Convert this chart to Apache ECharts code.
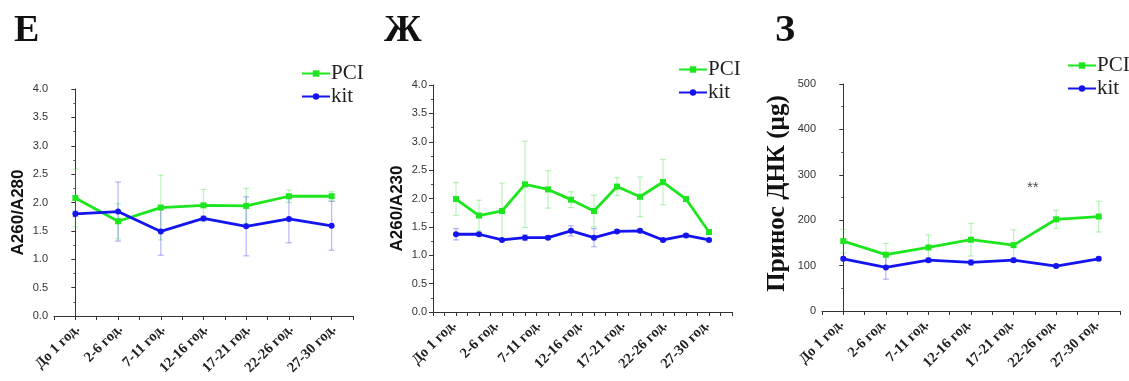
<!DOCTYPE html>
<html><head><meta charset="utf-8">
<script src="https://cdn.jsdelivr.net/npm/echarts@6/dist/echarts.min.js"></script>
<style>html,body{margin:0;padding:0;background:#fff}#c{width:1129px;height:381px}</style>
</head><body><div id="c"></div>
<script>
// ---------- data ----------
const ageLabels = ['До 1 год.', '2-6 год.', '7-11 год.', '12-16 год.', '17-21 год.', '22-26 год.', '27-30 год.'];
const panelLetters = ['Е', 'Ж', 'З'];
const seriesNames = ['PCI', 'kit'];

// Panel Е : A260/A280
const pciE   = [2.08, 1.67, 1.91, 1.95, 1.94, 2.11, 2.11];
const pciESd = [0.51, 0.31, 0.57, 0.28, 0.31, 0.11, 0.08];
const kitE   = [1.80, 1.84, 1.49, 1.72, 1.58, 1.71, 1.59];
const kitESd = [0.05, 0.52, 0.42, 0.04, 0.52, 0.42, 0.43];

// Panel Ж : A260/A230 (12 points)
const pciZh   = [1.99, 1.70, 1.78, 2.25, 2.16, 1.98, 1.78, 2.21, 2.03, 2.29, 1.99, 1.41];
const pciZhSd = [0.29, 0.27, 0.49, 0.76, 0.33, 0.14, 0.28, 0.16, 0.35, 0.40, 0.02, 0.02];
const kitZh   = [1.37, 1.37, 1.27, 1.31, 1.31, 1.43, 1.31, 1.42, 1.43, 1.27, 1.35, 1.27];
const kitZhSd = [0.10, 0.03, 0.02, 0.05, 0.03, 0.09, 0.16, 0.03, 0.03, 0.03, 0.03, 0.02];

// Panel З : DNA yield (µg)
const pciZ   = [154, 124, 140, 157, 145, 202, 208];
const pciZSd = [26, 25, 28, 36, 34, 20, 34];
const kitZ   = [115, 96, 112, 107, 112, 99, 115];
const kitZSd = [4, 26, 5, 6, 5, 4, 4];

const yTitles = ['A260/A280', 'A260/A230', 'Принос ДНК (µg)'];
const yMax = [4, 4, 500];
const yInterval = [0.5, 0.5, 100];
const sigMark = {x: 4.45, y: 272, text: '**'};

// ---------- layout ----------
const mains = [
  {left: 54, right: 353, top: 89, bottom: 316, xmin: -0.5, xmax: 6.5, first: 0, last: 6, shift: 2},
  {left: 433, right: 732, top: 85, bottom: 312, xmin: 0, xmax: 13, first: 1, last: 12, shift: -2},
  {left: 822, right: 1120, top: 84, bottom: 311, xmin: -0.5, xmax: 6.5, first: 0, last: 6, shift: -2}
];
const GREEN = '#1ee61e', BLUE = '#1414f0';
const GREEN_E = 'rgba(40,220,40,0.32)', BLUE_E = 'rgba(30,30,240,0.32)';

const grids = [], xAxes = [], yAxes = [], series = [], legends = [];
const pctx = (m, v) => m.left + (v - m.xmin) / (m.xmax - m.xmin) * (m.right - m.left);

const panelData = [
  [[pciE, pciESd], [kitE, kitESd]],
  [[pciZh, pciZhSd], [kitZh, kitZhSd]],
  [[pciZ, pciZSd], [kitZ, kitZSd]]
];

function errSeries(gi, vals, sd, color, xs) {
  return {
    type: 'custom', xAxisIndex: gi, yAxisIndex: gi, silent: true, z: 1,
    data: vals.map((v, i) => [xs[i], v - sd[i], v + sd[i]]),
    renderItem: function (params, api) {
      const lo = api.coord([api.value(0), api.value(1)]);
      const hi = api.coord([api.value(0), api.value(2)]);
      const cw = 3;
      const st = {stroke: color, lineWidth: 1.2};
      return {type: 'group', children: [
        {type: 'line', shape: {x1: lo[0], y1: lo[1], x2: hi[0], y2: hi[1]}, style: st},
        {type: 'line', shape: {x1: lo[0]-cw, y1: lo[1], x2: lo[0]+cw, y2: lo[1]}, style: st},
        {type: 'line', shape: {x1: hi[0]-cw, y1: hi[1], x2: hi[0]+cw, y2: hi[1]}, style: st}
      ]};
    }
  };
}

mains.forEach((m, p) => {
  grids.push({left: m.left, top: m.top, width: m.right - m.left, height: m.bottom - m.top, containLabel: false});
  xAxes.push({
    type: 'value', gridIndex: p, min: m.xmin, max: m.xmax, interval: 0.5,
    axisLine: {show: true, onZero: false, lineStyle: {color: '#333', width: 1}},
    axisTick: {show: true, length: 4, lineStyle: {color: '#333'}},
    axisLabel: {show: false}, splitLine: {show: false}
  });
  yAxes.push({
    type: 'value', gridIndex: p, min: 0, max: yMax[p], interval: yInterval[p],
    name: yTitles[p], nameLocation: 'middle',
    nameGap: p === 2 ? 32 : 27,
    nameTextStyle: p === 2
      ? {fontFamily: 'Liberation Serif', fontWeight: 'bold', fontSize: 25, color: '#111', padding: [0, 0, 0, 8]}
      : {fontFamily: 'Liberation Sans', fontWeight: 'bold', fontSize: 17, color: '#111', padding: [0, 0, 0, -20]},
    axisLine: {show: true, lineStyle: {color: '#333', width: 1}},
    axisTick: {show: true, length: 4, lineStyle: {color: '#333'}},
    minorTick: {show: true, splitNumber: 2, length: 2, lineStyle: {color: '#555'}},
    axisLabel: {fontFamily: 'Liberation Sans', fontSize: 11, color: '#333', margin: 6,
      formatter: v => p === 2 ? String(v) : v.toFixed(1)},
    splitLine: {show: false}
  });
  const n = panelData[p][0][0].length;
  const xs = Array.from({length: n}, (_, i) => i + m.first);
  const [[pv, ps], [kv, ks]] = panelData[p];
  series.push(errSeries(p, pv, ps, GREEN_E, xs));
  series.push(errSeries(p, kv, ks, BLUE_E, xs));
  series.push({name: 'PCI', type: 'line', xAxisIndex: p, yAxisIndex: p, z: 3,
    data: pv.map((v, i) => [xs[i], v]), symbol: 'rect', symbolSize: 6,
    lineStyle: {color: GREEN, width: 2.8}, itemStyle: {color: GREEN}});
  series.push({name: 'kit', type: 'line', xAxisIndex: p, yAxisIndex: p, z: 4,
    data: kv.map((v, i) => [xs[i], v]), symbol: 'circle', symbolSize: 6,
    lineStyle: {color: BLUE, width: 2.8}, itemStyle: {color: BLUE}});
});

// category label axes (label-only grids)
mains.forEach((m, p) => {
  const gi = 3 + p;
  const x0 = pctx(m, m.first) + m.shift, x1 = pctx(m, m.last) + m.shift;
  grids.push({left: x0, width: x1 - x0, top: m.top, height: m.bottom - m.top});
  xAxes.push({type: 'category', gridIndex: gi, data: ageLabels, boundaryGap: false,
    axisLine: {show: false}, axisTick: {show: false}, splitLine: {show: false},
    axisLabel: {rotate: 45, interval: 0, margin: 11, fontFamily: 'Liberation Serif', fontWeight: 'bold', fontSize: 14.5, color: '#222'}});
  yAxes.push({type: 'value', gridIndex: gi, show: false});
});

// significance mark
series.push({type: 'scatter', xAxisIndex: 2, yAxisIndex: 2, symbolSize: 0, silent: true,
  data: [[sigMark.x, sigMark.y]],
  label: {show: true, formatter: sigMark.text, position: 'inside', fontSize: 15, fontFamily: 'Liberation Sans', color: '#222'}});

const legendPos = [{left: 296, top: 58}, {left: 673, top: 54}, {left: 1062, top: 50}];
legendPos.forEach(lp => legends.push({
  data: seriesNames, orient: 'vertical', left: lp.left, top: lp.top, itemGap: 2,
  itemWidth: 28, itemHeight: 8, selectedMode: false,
  textStyle: {fontFamily: 'Liberation Serif', fontSize: 21, color: '#222', padding: [0, 0, 0, -4]}
}));

const titles = [
  {text: panelLetters[0], left: 9, top: 7},
  {text: panelLetters[1], left: 379, top: 7},
  {text: panelLetters[2], left: 770, top: 7}
].map(t => Object.assign(t, {textStyle: {fontFamily: 'Liberation Serif', fontWeight: 'bold', fontSize: 38, color: '#111'}}));

const chart = echarts.init(document.getElementById('c'), null, {renderer: 'canvas'});
chart.setOption({
  backgroundColor: '#fff', animation: false,
  title: titles, legend: legends, grid: grids, xAxis: xAxes, yAxis: yAxes, series: series
});
</script></body></html>
